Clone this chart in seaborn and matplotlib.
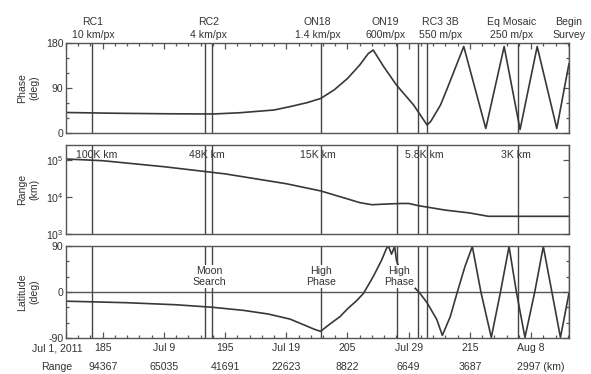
import numpy as np
import pandas as pd
import matplotlib
matplotlib.use("Agg")
import matplotlib.pyplot as plt
from matplotlib.ticker import NullLocator, FixedLocator
import seaborn as sns

# ---------------- data ----------------
phase_day = [182, 186, 190, 194, 196.2, 199, 200.3, 201.7, 202.8, 203.9, 205, 206, 206.7, 207.1,
             207.95, 209, 210.4, 211.5, 211.8, 212.6, 213.1, 214.5, 216.3, 217.8, 219.1, 220.5,
             222.1, 223.1]
phase_deg = [41, 39.5, 38.5, 38, 40.5, 46, 52.7, 60.7, 69, 86, 109, 136, 159, 166,
             133, 96, 56, 16, 23, 56, 86, 173, 9, 173, 7, 173,
             9, 139]

range_day = [182, 185, 190, 195, 200, 202.8, 205, 206, 207, 208.5, 209.5, 210, 210.8, 213,
             215, 216.5, 220, 223.1]
range_km = [105000, 94367, 65035, 41691, 22623, 14500, 8822, 7000, 6150, 6500, 6650, 6649, 5800, 4400,
            3687, 3000, 2997, 2997]

lat_day = [182, 187, 191, 194, 196.5, 198.5, 200.3, 201.5, 202.3, 202.8, 203.6, 204.4, 205.0,
           205.7, 206.3, 207.1, 207.8, 208.2, 208.35, 208.6, 208.85, 209.0, 209.3, 210.5, 210.9,
           211.5, 212.3, 212.75, 213.4, 213.95, 214.6, 215.2, 215.9, 216.75, 217.5, 218.2, 218.8,
           219.5, 220.3, 221.0, 221.7, 222.4, 223.1]
lat_deg = [-18, -21, -25, -30, -36, -43, -53, -65, -73, -77, -62, -48, -33,
           -18, -3, 30, 63, 86, 89, 74, 89, 62, 42, 8, -2,
           -21, -54, -85, -48, -2, 50, 89, 0, -89, 0, 89, 0,
           -89, 0, 89, 0, -89, -2]

event_day = [184.15, 193.37, 193.91, 202.8, 209.05, 210.8, 211.5, 218.9, 223.1]

top_labels = ["RC1\n10 km/px", "RC2\n4 km/px", "ON18\n1.4 km/px", "ON19\n600m/px",
              "RC3 3B\n550 m/px", "Eq Mosaic\n250 m/px", "Begin\nSurvey"]
range_labels = ["100K km", "48K km", "15K km", "5.8K km", "3K km"]
lat_labels = ["Moon\nSearch", "High\nPhase", "High\nPhase"]

tick_day = [182, 185, 190, 195, 200, 205, 210, 215, 220]
tick_date = ["Jul 1, 2011", "185", "Jul 9", "195", "Jul 19", "205", "Jul 29", "215", "Aug 8"]
tick_range = ["Range", "94367", "65035", "41691", "22623", "8822", "6649", "3687", "2997 (km)"]

# ---------------- layout (positions only) ----------------
top_label_x = [184.2, 193.65, 202.56, 208.08, 212.58, 218.44, 223.1]
range_label_x = [184.5, 193.5, 202.6, 211.27, 218.8]
lat_label_x = [193.7, 202.8, 209.2]
XLIM = (182, 223.1)
FS = 7.6

sns.set_theme(style="ticks")
plt.rcParams["font.family"] = ["Liberation Sans", "DejaVu Sans"]
plt.rcParams["font.size"] = FS
plt.rcParams["mathtext.fontset"] = "custom"
plt.rcParams["mathtext.rm"] = "Liberation Sans"
plt.rcParams["mathtext.default"] = "regular"

TXT = "#333333"
LINE = "#383838"
FRAME = "#555555"
VL = "#444444"

fig = plt.figure(figsize=(5.91, 3.74), dpi=100)
L, W = 0.1117, 0.8511
ax1 = fig.add_axes([L, 0.6444, W, 0.2406])
ax2 = fig.add_axes([L, 0.3743, W, 0.2380])
ax3 = fig.add_axes([L, 0.0963, W, 0.2460])

df_p = pd.DataFrame({"day": phase_day, "phase": phase_deg})
df_r = pd.DataFrame({"day": range_day, "range": range_km})
df_l = pd.DataFrame({"day": lat_day, "lat": lat_deg})

sns.lineplot(data=df_p, x="day", y="phase", ax=ax1, color=LINE, lw=1.2, estimator=None, sort=False)
sns.lineplot(data=df_r, x="day", y="range", ax=ax2, color=LINE, lw=1.2, estimator=None, sort=False)
sns.lineplot(data=df_l, x="day", y="lat", ax=ax3, color=LINE, lw=1.2, estimator=None, sort=False)

for ax in (ax1, ax2, ax3):
    ax.set_xlim(*XLIM)
    ax.set_xlabel("")
    ax.set_ylabel("")
    for d in event_day:
        ax.axvline(d, color=VL, lw=1.0, zorder=1)
    for s in ax.spines.values():
        s.set_color(FRAME)
        s.set_linewidth(1.0)
    ax.set_facecolor("white")

# Phase panel
ax1.set_ylim(0, 180)
ax1.yaxis.set_major_locator(FixedLocator([0, 90, 180]))
ax1.yaxis.set_minor_locator(FixedLocator([30, 60, 120, 150]))
ax1.set_yticklabels(["0", "90", "180"])
ax1.xaxis.set_major_locator(FixedLocator(tick_day))
ax1.xaxis.set_minor_locator(FixedLocator(list(range(182, 224))))
ax1.tick_params(axis="x", which="both", top=True, bottom=False, labelbottom=False,
                labeltop=False, direction="in", color=FRAME)
ax1.tick_params(axis="y", which="both", left=True, right=True, direction="in",
                color=FRAME, labelcolor=TXT, pad=2, labelsize=FS)

# Range panel
ax2.set_yscale("log")
ax2.set_ylim(1e3, 2.5e5)
ax2.yaxis.set_major_locator(FixedLocator([1e3, 1e4, 1e5]))
ax2.yaxis.set_minor_locator(NullLocator())
ax2.set_yticklabels(["$10^3$", "$10^4$", "$10^5$"])
ax2.xaxis.set_major_locator(NullLocator())
ax2.xaxis.set_minor_locator(NullLocator())
ax2.tick_params(axis="y", which="both", left=True, right=True, direction="in",
                color=FRAME, labelcolor=TXT, pad=2, labelsize=FS)

# Latitude panel
ax3.set_ylim(-90, 90)
ax3.axhline(0, color=FRAME, lw=1.0, zorder=1)
ax3.yaxis.set_major_locator(FixedLocator([-90, 0, 90]))
ax3.yaxis.set_minor_locator(FixedLocator([-60, -30, 30, 60]))
ax3.set_yticklabels(["-90", "0", "90"])
ax3.xaxis.set_major_locator(FixedLocator(tick_day))
ax3.xaxis.set_minor_locator(FixedLocator(list(range(182, 224))))
ax3.tick_params(axis="x", which="both", bottom=True, top=False, labelbottom=False,
                direction="in", color=FRAME)
ax3.tick_params(axis="y", which="both", left=True, right=True, direction="in",
                color=FRAME, labelcolor=TXT, pad=2, labelsize=FS)

for ax in (ax1, ax2, ax3):
    ax.tick_params(which="major", length=4, width=0.9)
    ax.tick_params(which="minor", length=2.5, width=0.9)

# y labels
for ax, lab in ((ax1, "Phase\n(deg)"), (ax2, "Range\n(km)"), (ax3, "Latitude\n(deg)")):
    ax.text(-0.075, 0.5, lab, transform=ax.transAxes, rotation=90, ha="center",
            va="center", color=TXT, fontsize=FS, linespacing=1.25)

# top event labels
for x, lab in zip(top_label_x, top_labels):
    ax1.annotate(lab, xy=(x, 1), xycoords=("data", "axes fraction"), xytext=(0, 2.3),
                 textcoords="offset points", ha="center", va="bottom", color=TXT,
                 fontsize=FS, linespacing=1.35, annotation_clip=False)

# range labels
for x, lab in zip(range_label_x, range_labels):
    ax2.text(x, 0.885, lab, transform=ax2.get_xaxis_transform(), ha="center",
             va="center", color=TXT, fontsize=FS)

# latitude labels with white boxes
for x, lab in zip(lat_label_x, lat_labels):
    ax3.text(x, 31, lab, ha="center", va="center", color=TXT, fontsize=FS,
             linespacing=1.1, zorder=5,
             bbox=dict(boxstyle="square,pad=0.1", fc="white", ec="none"))

# bottom two rows of labels
for i, (x, d, r) in enumerate(zip(tick_day, tick_date, tick_range)):
    dx = 0
    dx2 = 0
    ha2 = "center"
    if i == 0:
        dx = -6.5
        dx2 = -6.5
    if i == len(tick_day) - 1:
        ha2 = "left"
        dx2 = -10
    ax3.annotate(d, xy=(x, 0), xycoords=("data", "axes fraction"), xytext=(dx, -7.5),
                 textcoords="offset points", ha="center", va="center", color=TXT, fontsize=FS,
                 annotation_clip=False)
    ax3.annotate(r, xy=(x, 0), xycoords=("data", "axes fraction"), xytext=(dx2, -20.7),
                 textcoords="offset points", ha=ha2, va="center", color=TXT, fontsize=FS,
                 annotation_clip=False)

fig.savefig("out.png", dpi=100, facecolor="white")
